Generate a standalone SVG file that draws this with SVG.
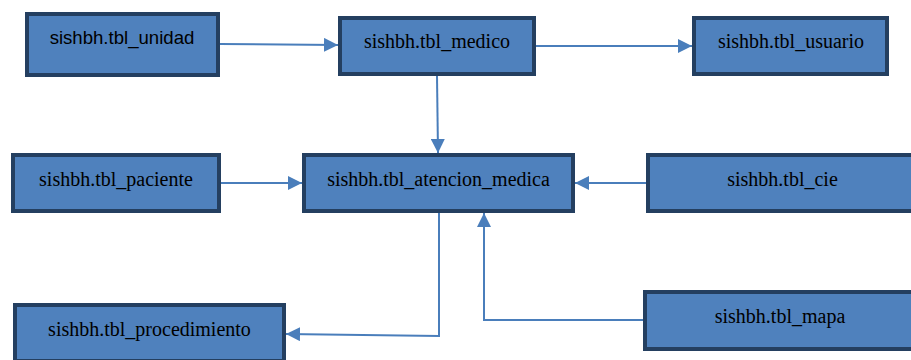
<svg xmlns="http://www.w3.org/2000/svg" width="911" height="360" viewBox="0 0 911 360">
<style>
.box{fill:#4f81bd;stroke:#243f60;stroke-width:4}
.t{font-family:'Liberation Serif','Times New Roman',Times,serif;font-size:20px;fill:#000;text-anchor:middle}
.s{font-family:'Liberation Sans',Arial,sans-serif;font-size:18.6px;fill:#000;text-anchor:middle}
.c{fill:none;stroke:#4a7ebb;stroke-width:2}
</style>
<defs>
<marker id="ah" markerUnits="userSpaceOnUse" markerWidth="16" markerHeight="14" refX="14" refY="7" orient="auto">
<path d="M0,0 L14,7 L0,14 Z" fill="#4a7ebb"/>
</marker>
</defs>
<rect width="911" height="360" fill="#fff"/>
<g id="connectors">
<path class="c" d="M220,44 L338,45" marker-end="url(#ah)"/>
<path class="c" d="M536,46 L692,46" marker-end="url(#ah)"/>
<path class="c" d="M437,76 L438,153" marker-end="url(#ah)"/>
<path class="c" d="M221,183 L302,183" marker-end="url(#ah)"/>
<path class="c" d="M646,183 L575,183" marker-end="url(#ah)"/>
<path class="c" d="M439,213 L439,336 L286,334" marker-end="url(#ah)"/>
<path class="c" d="M643,320 L484,320 L484,213" marker-end="url(#ah)"/>
</g>
<g id="unidad"><rect class="box" x="27" y="14" width="191" height="61"/><text class="s" x="122" y="44">sishbh.tbl_unidad</text></g>
<g id="medico"><rect class="box" x="340" y="18" width="194" height="56"/><text class="t" x="437" y="48">sishbh.tbl_medico</text></g>
<g id="usuario"><rect class="box" x="694" y="18" width="193" height="56"/><text class="t" x="791" y="48">sishbh.tbl_usuario</text></g>
<g id="paciente"><rect class="box" x="13" y="155" width="206" height="56"/><text class="t" x="116" y="186">sishbh.tbl_paciente</text></g>
<g id="atencion_medica"><rect class="box" x="304" y="155" width="269" height="56"/><text class="t" x="438.5" y="186">sishbh.tbl_atencion_medica</text></g>
<g id="cie"><rect class="box" x="648" y="155" width="269" height="56"/><text class="t" x="782.5" y="186">sishbh.tbl_cie</text></g>
<g id="procedimiento"><rect class="box" x="15" y="305" width="269" height="56"/><text class="t" x="149.5" y="336">sishbh.tbl_procedimiento</text></g>
<g id="mapa"><rect class="box" x="645" y="292" width="270" height="57"/><text class="t" x="780" y="323">sishbh.tbl_mapa</text></g>
</svg>
